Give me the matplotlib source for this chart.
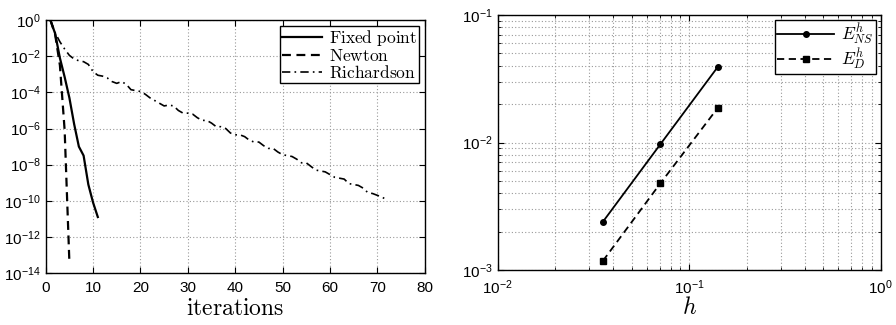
import numpy as np
import matplotlib
matplotlib.use('Agg')
import matplotlib.pyplot as plt
from matplotlib.ticker import LogLocator, NullFormatter

plt.rcParams['font.family'] = ['Liberation Sans', 'DejaVu Sans']
plt.rcParams['mathtext.fontset'] = 'cm'

# left panel: log10 of the residual per iteration
fixed_iter = [1, 2, 3, 4, 5, 6, 7, 8, 9, 10, 11]
fixed_log = [0.0, -0.75, -2.1, -3.15, -4.3, -5.75, -7.0, -7.5, -9.1, -10.1, -10.9]

newton_iter = [1, 2, 3, 4, 5]
newton_log = [0.0, -0.8, -2.5, -6.1, -13.4]

rich_iter = list(range(1, 73))
rich_log = [0.0, -0.7, -1.2, -1.6, -1.95, -2.15, -2.25, -2.3, -2.45, -2.85,
            -3.05, -3.1, -3.2, -3.4, -3.5, -3.4, -3.55, -3.85, -3.9, -3.95,
            -4.1, -4.3, -4.45, -4.6, -4.75, -4.7, -4.75, -5.0, -5.15, -5.15,
            -5.2, -5.4, -5.55, -5.55, -5.7, -5.9, -5.9, -6.0, -6.25, -6.35,
            -6.35, -6.45, -6.65, -6.75, -6.75, -6.95, -7.1, -7.1, -7.3, -7.45,
            -7.5, -7.55, -7.7, -7.9, -7.9, -8.1, -8.3, -8.35, -8.4, -8.55,
            -8.7, -8.75, -8.8, -9.05, -9.1, -9.15, -9.3, -9.55, -9.6, -9.7,
            -9.8, -9.95]

# right panel: errors vs mesh size
h_vals = [0.0354, 0.0707, 0.1414]
err_ns = [0.00239, 0.0097, 0.0394]
err_d = [0.00118, 0.00479, 0.0188]

fig = plt.figure(figsize=(8.96, 3.25), dpi=100)
ax1 = fig.add_axes([0.051, 0.16, 0.423, 0.778])
ax2 = fig.add_axes([0.5555, 0.169, 0.4275, 0.785])

grid_kw = dict(color='#999999', linestyle=(0, (1, 2)), linewidth=0.8)

ax1.semilogy(fixed_iter, 10.0 ** np.array(fixed_log), 'k-', lw=1.6, label=r'$\mathrm{Fixed\ point}$')
ax1.semilogy(newton_iter, 10.0 ** np.array(newton_log), color='k', ls=(0, (4, 2.5)), lw=1.6,
             label=r'$\mathrm{Newton}$')
ax1.semilogy(rich_iter, 10.0 ** np.array(rich_log), color='k', ls=(0, (5, 2.5, 1, 2.5)), lw=1.2,
             label=r'$\mathrm{Richardson}$')
ax1.set_xlim(0, 80)
ax1.set_ylim(1e-14, 1e0)
ax1.set_yticks([10.0 ** -k for k in range(0, 15, 2)])
ax1.yaxis.set_minor_locator(plt.NullLocator())
ax1.set_xticks(range(0, 81, 10))
ax1.grid(True, which='major', **grid_kw)
ax1.set_xlabel(r'$\mathrm{iterations}$', fontsize=17, labelpad=2)
leg1 = ax1.legend(loc='upper right', fontsize=12.5, fancybox=False, framealpha=1,
                  edgecolor='black', borderpad=0.1, labelspacing=0.0,
                  handlelength=2.3, handletextpad=0.4, borderaxespad=0.35)
leg1.get_frame().set_linewidth(1.0)

ax2.loglog(h_vals, err_ns, 'k-', marker='o', ms=4, lw=1.3, label=r'$E^h_{NS}$')
ax2.loglog(h_vals, err_d, color='k', ls=(0, (4, 2.5)), marker='s', ms=4, lw=1.3, label=r'$E^h_{D}$')
ax2.set_xlim(1e-2, 1e0)
ax2.set_ylim(1e-3, 1e-1)
ax2.xaxis.set_minor_locator(LogLocator(base=10, subs=np.arange(2, 10)))
ax2.yaxis.set_minor_locator(LogLocator(base=10, subs=np.arange(2, 10)))
ax2.xaxis.set_minor_formatter(NullFormatter())
ax2.yaxis.set_minor_formatter(NullFormatter())
ax2.grid(True, which='both', **grid_kw)
ax2.set_xlabel(r'$h$', fontsize=17, labelpad=0)
leg2 = ax2.legend(loc='upper right', fontsize=12.5, fancybox=False, framealpha=1,
                  edgecolor='black', borderpad=0.1, labelspacing=0.0,
                  handlelength=3.3, handletextpad=0.4, borderaxespad=0.3)
leg2.get_frame().set_linewidth(1.0)

for ax in (ax1, ax2):
    ax.tick_params(which='both', direction='in', top=True, right=True, labelsize=11)
    ax.tick_params(which='major', length=4)
    ax.tick_params(which='minor', length=2)
    ax.tick_params(axis='x', pad=6)
    for s in ax.spines.values():
        s.set_linewidth(1.0)

fig.savefig('out.png', dpi=100)
